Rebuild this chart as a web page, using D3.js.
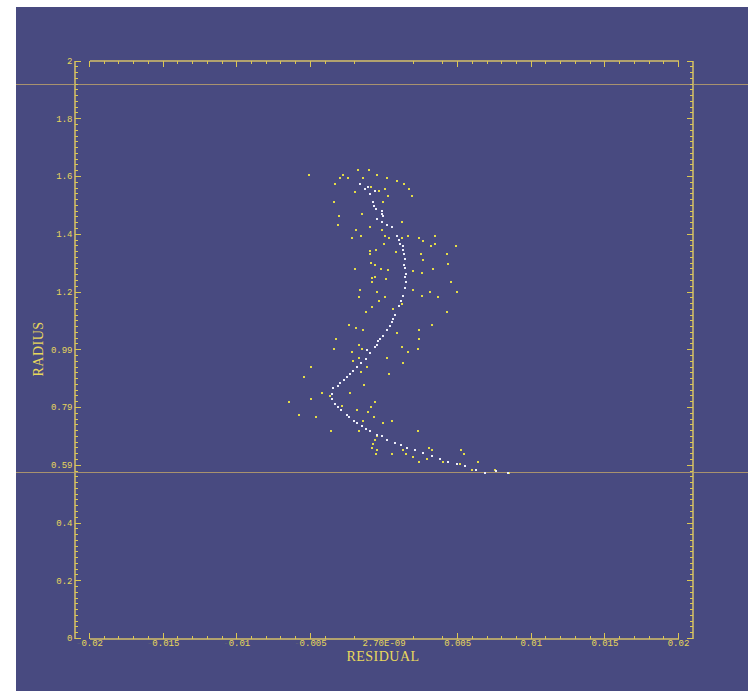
<!DOCTYPE html>
<html><head><meta charset="utf-8">
<script src="https://cdn.jsdelivr.net/npm/d3@7"></script>
<style>body{margin:0;background:#fff;overflow:hidden}</style>
</head><body><svg id="c" width="748" height="691"></svg>
<script>
// ---- data ----
const xTickValues = [-0.02,-0.015,-0.01,-0.005,0,0.005,0.01,0.015,0.02];
const xTickLabels = ["-0.02","-0.015","-0.01","-0.005","2.70E-09","0.005","0.01","0.015","0.02"];
const xMinorSkip = [-0.003,-0.001,0,0.001,0.003];
const yTickValues = [0,0.2,0.4,0.6,0.8,1.0,1.2,1.4,1.6,1.8,2.0];
const yTickLabels = ["0","0.2","0.4","0.59","0.79","0.99","1.2","1.4","1.6","1.8","2"];
const refRadii = [0.575, 1.917];

const whiteResidual = [0.00845,0.00764,0.00689,0.00628,0.00553,0.00497,0.00440,0.00384,0.00327,0.00270,0.00214,0.00162,0.00117,0.00078,0.00026,-0.00012,-0.00046,-0.00092,-0.00119,-0.00148,-0.00178,-0.00200,-0.00234,-0.00250,-0.00291,-0.00307,-0.00329,-0.00348,-0.00352,-0.00341,-0.00307,-0.00295,-0.00268,-0.00250,-0.00227,-0.00205,-0.00178,-0.00155,-0.00119,-0.00092,-0.00110,-0.00060,-0.00046,-0.00035,-0.00024,-0.00005,0.00026,0.00044,0.00056,0.00067,0.00078,0.00107,0.00117,0.00134,0.00144,0.00151,0.00146,0.00153,0.00146,0.00139,0.00146,0.00139,0.00134,0.00134,0.00112,0.00107,0.00094,0.00056,0.00026,-0.00008,-0.00046,-0.00001,-0.00012,-0.00012,-0.00051,-0.00065,-0.00073,-0.00092,-0.00058,-0.00126,-0.00103,-0.00160];
const whiteRadius = [0.572,0.579,0.573,0.582,0.594,0.603,0.611,0.621,0.631,0.640,0.652,0.659,0.670,0.677,0.686,0.698,0.704,0.718,0.725,0.735,0.744,0.751,0.764,0.773,0.790,0.800,0.811,0.828,0.846,0.866,0.873,0.883,0.894,0.904,0.915,0.923,0.940,0.952,0.967,0.987,0.998,1.008,1.016,1.027,1.035,1.047,1.065,1.081,1.093,1.105,1.120,1.151,1.168,1.185,1.213,1.232,1.250,1.262,1.280,1.293,1.313,1.330,1.342,1.356,1.366,1.377,1.393,1.422,1.432,1.442,1.451,1.460,1.470,1.478,1.486,1.497,1.509,1.536,1.547,1.555,1.562,1.574];

const yellowResidual = [-0.00504,-0.00277,-0.00171,-0.00096,-0.00329,-0.00295,-0.00239,-0.00137,-0.00042,0.00022,0.00094,0.00141,-0.00087,-0.00031,0.00012,0.00175,0.00031,0.00192,-0.00334,-0.00192,-0.00005,-0.00300,-0.00148,-0.00307,0.00128,-0.00092,-0.00185,-0.00012,-0.00153,0.00012,-0.00216,0.00039,0.00126,0.00164,0.00243,0.00266,0.00350,0.00005,0.00321,0.00350,0.00490,-0.00092,-0.00094,-0.00049,0.00085,0.00253,0.00429,0.00266,-0.00087,-0.00056,-0.00194,-0.00017,0.00029,0.00202,0.00336,0.00438,0.00261,-0.00078,-0.00056,0.00019,-0.00078,0.00458,-0.00158,-0.00046,0.00198,0.00316,0.00497,-0.00166,0.00010,0.00261,0.00372,-0.00029,-0.00078,-0.00119,0.00429,0.00067,0.00124,-0.00232,-0.00187,-0.00137,-0.00325,0.00090,0.00239,0.00239,0.00327,-0.00166,-0.00334,-0.00146,-0.00216,0.00124,0.00164,0.00232,-0.00164,0.00024,-0.00209,-0.00114,-0.00155,0.00130,0.00035,-0.00540,-0.00492,-0.00132,-0.00363,-0.00418,-0.00227,-0.00282,-0.00640,-0.00494,-0.00056,-0.00087,-0.00182,-0.00458,-0.00576,-0.00103,-0.00065,-0.00137,0.00056,-0.00005,-0.00359,-0.00164,-0.00046,0.00232,-0.00058,-0.00069,-0.00080,-0.00042,-0.00051,0.00056,0.00153,0.00130,0.00198,0.00309,0.00327,0.00239,0.00293,0.00402,0.00524,0.00549,0.00520,0.00640,0.00599,0.00757,0.00854];
const yellowRadius = [1.604,1.604,1.622,1.620,1.574,1.593,1.593,1.593,1.602,1.593,1.582,1.574,1.562,1.547,1.555,1.555,1.530,1.530,1.509,1.546,1.509,1.460,1.469,1.432,1.441,1.422,1.412,1.412,1.393,1.393,1.385,1.385,1.385,1.393,1.384,1.376,1.393,1.366,1.358,1.366,1.356,1.339,1.330,1.345,1.338,1.330,1.330,1.310,1.299,1.292,1.279,1.279,1.273,1.272,1.279,1.296,1.264,1.247,1.250,1.245,1.233,1.233,1.205,1.198,1.205,1.198,1.198,1.180,1.180,1.185,1.180,1.168,1.148,1.130,1.130,1.139,1.158,1.083,1.073,1.065,1.035,1.056,1.065,1.035,1.083,1.016,1.001,1.001,0.989,1.008,0.989,1.001,0.968,0.968,0.961,0.940,0.922,0.951,0.915,0.904,0.940,0.876,0.839,0.847,0.847,0.802,0.818,0.828,0.818,0.801,0.791,0.764,0.773,0.783,0.764,0.751,0.751,0.744,0.718,0.718,0.698,0.718,0.686,0.672,0.659,0.652,0.638,0.638,0.638,0.651,0.628,0.658,0.651,0.610,0.619,0.611,0.652,0.638,0.603,0.611,0.582,0.582,0.573];

// ---- drawing ----
const svg = d3.select("#c");
const BG = "#484a80", AXIS = "#b2a26e", TICK = "#dcc852", TXT = "#e8d85c", REF = "#a8926e";

svg.append("rect").attr("x",16).attr("y",7).attr("width",732).attr("height",684).attr("fill",BG);

const x = d3.scaleLinear().domain([-0.02,0.02]).range([89,678]);
const y = d3.scaleLinear().domain([0,2]).range([638,60.5]);

// reference lines
svg.append("g").selectAll("line").data(refRadii).join("line")
  .attr("x1",16).attr("x2",748)
  .attr("y1",d=>Math.round(y(d))+0.5).attr("y2",d=>Math.round(y(d))+0.5)
  .attr("stroke",REF).attr("stroke-width",1);

const xMinor = d3.range(-20,21).map(i=>i/1000).filter(v=>!xMinorSkip.some(s=>Math.abs(s-v)<1e-9) && Math.abs(Math.round(v*200)-v*200)>1e-6);
const xMajorDrawn = xTickValues.filter(v=>v!==0);
const yMinor = d3.range(0,101).map(i=>i/50).filter(v=>Math.abs(Math.round(v*5)-v*5)>1e-6);

function style(g){
  g.attr("shape-rendering","crispEdges");
  g.select(".domain").attr("stroke",AXIS).attr("stroke-width",1.2);
  g.selectAll(".tick line").attr("stroke",TICK);
  g.selectAll("text").attr("fill",TXT).attr("font-family","'Liberation Mono', 'DejaVu Sans Mono', monospace").attr("font-size","9px");
}

// bottom axis
const gb = svg.append("g").attr("transform","translate(0,638.5)");
gb.call(d3.axisBottom(x).tickValues(xMinor).tickSizeInner(-3).tickSizeOuter(0).tickFormat(""));
gb.call(style);
const gbm = svg.append("g").attr("transform","translate(0,638.5)");
gbm.call(d3.axisBottom(x).tickValues(xMajorDrawn).tickSizeInner(-6).tickSizeOuter(0).tickFormat(""));
gbm.call(style);
gbm.select(".domain").remove();
const gbl = svg.append("g").attr("transform","translate(0,638.5)");
gbl.call(d3.axisBottom(x).tickValues(xTickValues).tickSize(0).tickPadding(1).tickFormat((d,i)=>xTickLabels[i]));
gbl.call(style);
gbl.select(".domain").remove();
gbl.selectAll(".tick text").each(function(){
  const t = d3.select(this), s = t.text();
  if (s.startsWith("-")) {
    t.text("");
    t.append("tspan").attr("fill-opacity",0.15).text("-");
    t.append("tspan").text(s.slice(1));
  }
});

// top axis
const gt = svg.append("g").attr("transform","translate(0,60.5)");
gt.call(d3.axisTop(x).tickValues(xMinor).tickSizeInner(-3).tickSizeOuter(0).tickFormat(""));
gt.call(style);
const gtm = svg.append("g").attr("transform","translate(0,60.5)");
gtm.call(d3.axisTop(x).tickValues(xMajorDrawn).tickSizeInner(-6).tickSizeOuter(0).tickFormat(""));
gtm.call(style);
gtm.select(".domain").remove();

// left axis
const gl = svg.append("g").attr("transform","translate(74.5,0)");
gl.call(d3.axisLeft(y).tickValues(yMinor).tickSizeInner(-3).tickSizeOuter(0).tickFormat(""));
gl.call(style);
const glm = svg.append("g").attr("transform","translate(74.5,0)");
glm.call(d3.axisLeft(y).tickValues(yTickValues).tickSizeInner(-6).tickSizeOuter(0).tickPadding(2).tickFormat((d,i)=>yTickLabels[i]));
glm.call(style);
glm.select(".domain").remove();

// right axis
const gr = svg.append("g").attr("transform","translate(692.5,0)");
gr.call(d3.axisRight(y).tickValues(yMinor).tickSizeInner(-3).tickSizeOuter(0).tickFormat(""));
gr.call(style);
const grm = svg.append("g").attr("transform","translate(692.5,0)");
grm.call(d3.axisRight(y).tickValues(yTickValues).tickSizeInner(-6).tickSizeOuter(0).tickFormat(""));
grm.call(style);
grm.select(".domain").remove();

// axis titles
svg.append("text").attr("x",383).attr("y",661).attr("text-anchor","middle")
  .attr("font-family","'Liberation Serif', 'DejaVu Serif', serif").attr("font-size","14px")
  .attr("letter-spacing","0.5px").attr("fill",TXT).text("RESIDUAL");
svg.append("text").attr("transform","translate(43,349) rotate(-90)").attr("text-anchor","middle")
  .attr("font-family","'Liberation Serif', 'DejaVu Serif', serif").attr("font-size","14px")
  .attr("letter-spacing","0.5px").attr("fill",TXT).text("RADIUS");

// data points
const yellowPts = yellowResidual.map((v,i)=>({x:v,y:yellowRadius[i]}));
const whitePts = whiteResidual.map((v,i)=>({x:v,y:whiteRadius[i]}));
svg.append("g").selectAll("rect").data(yellowPts).join("rect")
  .attr("x",d=>Math.round(x(d.x))-1).attr("y",d=>Math.round(y(d.y))-1)
  .attr("width",2).attr("height",2).attr("fill","#e4dc48");
svg.append("g").selectAll("rect").data(whitePts).join("rect")
  .attr("x",d=>Math.round(x(d.x))-1).attr("y",d=>Math.round(y(d.y))-1)
  .attr("width",2).attr("height",2).attr("fill","#eeeefa");
</script></body></html>
